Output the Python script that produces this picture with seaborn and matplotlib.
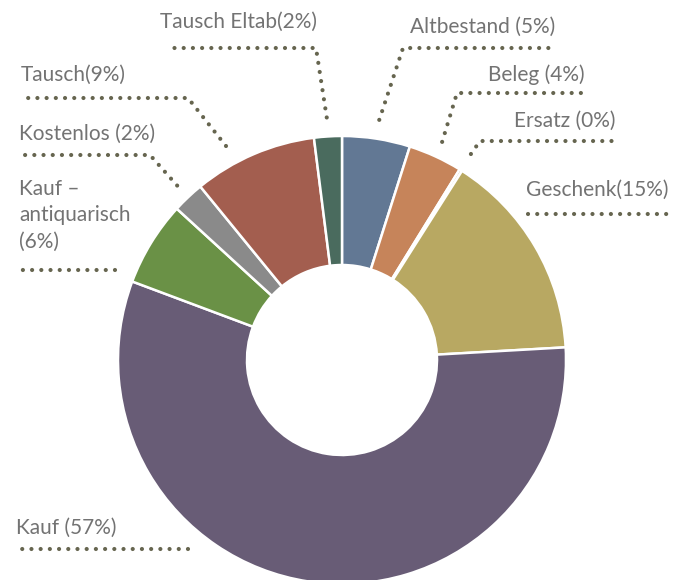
import numpy as np
import seaborn as sns
from matplotlib import pyplot as plt

# slices clockwise from 12 o'clock
categories = ["Altbestand", "Beleg", "Ersatz", "Geschenk", "Kauf",
              "Kauf antiquarisch", "Kostenlos", "Tausch", "Tausch Eltab"]
shares = [4.9, 3.9, 0.2, 15.1, 56.6, 6.1, 2.3, 8.9, 2.0]
labels = ["Altbestand (5%)", "Beleg (4%)", "Ersatz (0%)", "Geschenk(15%)",
          "Kauf (57%)", "Kauf –\nantiquarisch\n(6%)", "Kostenlos (2%)",
          "Tausch(9%)", "Tausch Eltab(2%)"]
colors = ["#627894", "#C6845A", "#B9A37A", "#B8A862", "#685C76",
          "#6A9146", "#8A8A8A", "#A35E4F", "#4A6B5E"]

sns.set_theme(style="white")
plt.rcParams["font.family"] = ["Lato", "DejaVu Sans"]

W, H = 680, 580
fig = plt.figure(figsize=(W / 100, H / 100), dpi=100)
ax = fig.add_axes([0, 0, 1, 1])

cx, cy, r_out, r_in = 342, H - 360, 224, 95
wedges, _ = ax.pie(
    shares, colors=colors, startangle=90, counterclock=False,
    center=(cx, cy), radius=r_out, frame=True,
    wedgeprops=dict(width=r_out - r_in, edgecolor="white", linewidth=1.8),
)
ax.set_xlim(0, W)
ax.set_ylim(0, H)
ax.set_aspect("equal")
ax.axis("off")

# label layout: (text x, text y, leader points) in pixels, y from top
# a leader starting with None begins just outside the middle of its wedge
layout = {
    "Altbestand": (410, 27, [None, (403, 48), (556, 48)]),
    "Beleg": (488, 75, [None, (457, 93), (587, 93)]),
    "Ersatz": (514, 121, [None, (480, 141), (616, 141)]),
    "Geschenk": (526, 190, [(528, 214), (670, 214)]),
    "Kauf": (16, 528, [(188, 549), (16, 549)]),
    "Kauf antiquarisch": (19, 215, [(115, 270), (22, 270)]),
    "Kostenlos": (19, 134, [None, (150, 155), (22, 155)]),
    "Tausch": (21, 75, [(226, 146), (188, 98), (22, 98)]),
    "Tausch Eltab": (160, 22, [None, (316, 48), (167, 48)]),
}
dot_color = "#66654F"
text_color = "#737373"

for w, cat, lab in zip(wedges, categories, labels):
    tx, ty, pts = layout[cat]
    ax.text(tx, H - ty, lab, ha="left", va="center", fontsize=15,
            color=text_color, linespacing=1.4)
    if pts[0] is None:
        mid = np.deg2rad((w.theta1 + w.theta2) / 2)
        rr = r_out + (16 if cat in ("Beleg", "Kostenlos") else 19)
        pts = [(cx + rr * np.cos(mid), H - (cy + rr * np.sin(mid)))] + pts[1:]
    xs = [p[0] for p in pts]
    ys = [H - p[1] for p in pts]
    ax.plot(xs, ys, color=dot_color, linewidth=3.0,
            linestyle=(0, (0.01, 2.2)), dash_capstyle="round")

fig.savefig("out.png", dpi=100)
